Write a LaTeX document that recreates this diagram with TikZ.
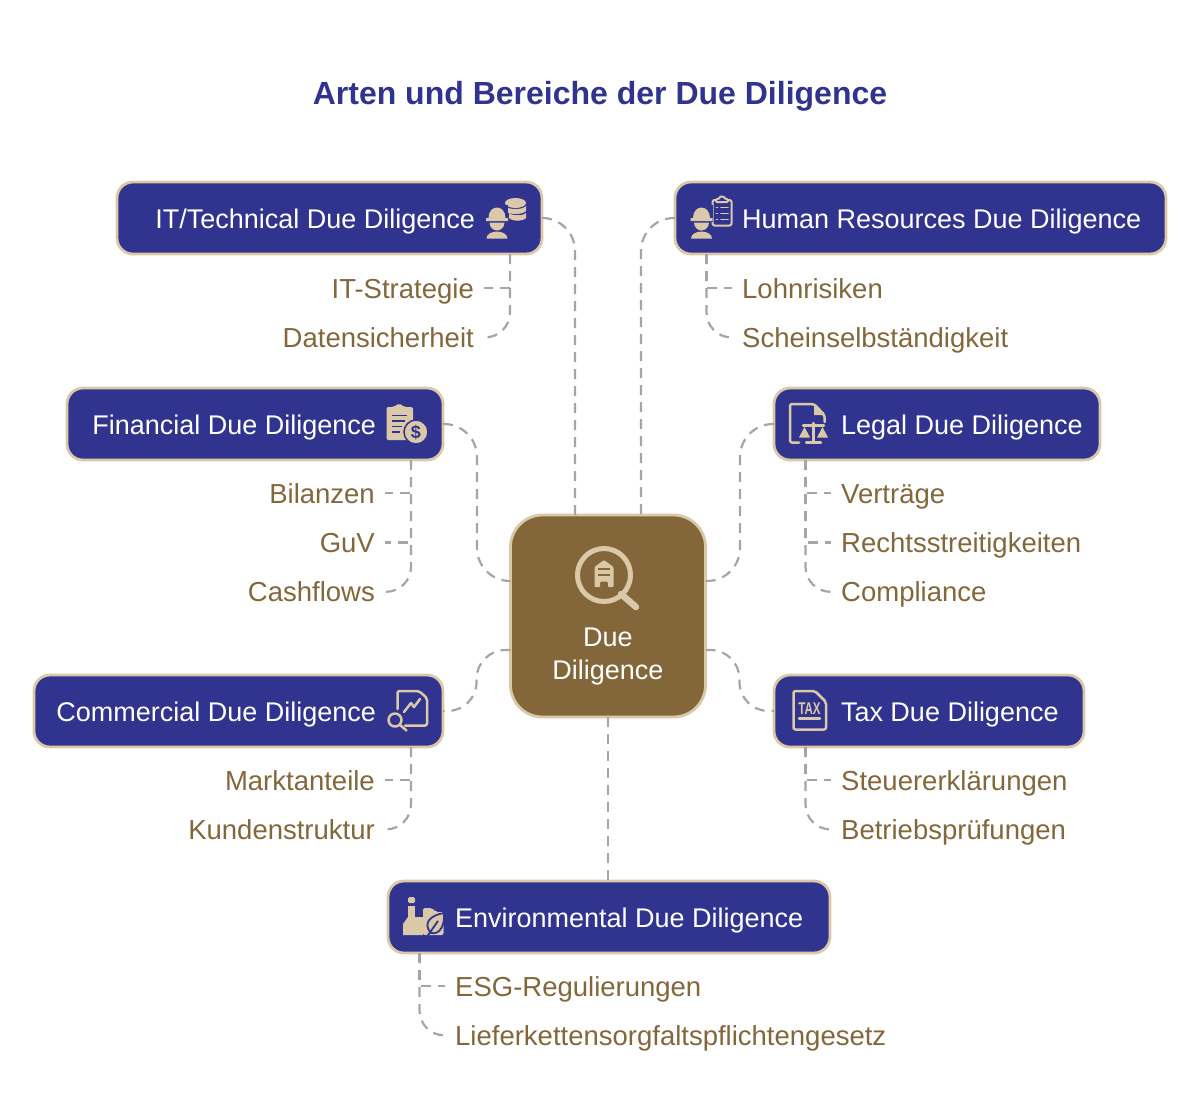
\documentclass[tikz,border=0pt]{standalone}
\usepackage{fontspec}
\setmainfont{Liberation Sans}
\usetikzlibrary{positioning}

\definecolor{navy}{HTML}{30348F}
\definecolor{sand}{HTML}{DBC8A8}
\definecolor{umber}{HTML}{83673A}
\definecolor{dashgray}{HTML}{A5A5A5}

% Icons
\newcommand{\workericon}[2]{
  \begin{scope}[shift={(#1,#2)}]
    \fill[navy] (-13,-18) rectangle (11,-1);
    \fill[sand] (-8.5,-5) .. controls (-8.5,-12) and (-4,-15.5) .. (0,-15.5) .. controls (4,-15.5) and (8.5,-12) .. (8.5,-5) -- (11,-5) -- (11,-2) -- (-11,-2) -- (-11,-5) -- cycle;
    \fill[sand] (-7.5,-.5) -- (7.5,-.5) .. controls (7.5,4) and (4,7.5) .. (0,7.5) .. controls (-4,7.5) and (-7.5,4) .. (-7.5,-.5) -- cycle;
    \fill[sand] (-10.5,15.5) .. controls (-10.5,11) and (-5,8.5) .. (0,8.5) .. controls (5,8.5) and (10.5,11) .. (10.5,15.5) -- cycle;
  \end{scope}
}
\newcommand{\diskband}[1]{
  \fill[sand] (509,#1) .. controls (512,{#1+3}) and (523,{#1+3}) .. (526,#1) -- (526,{#1+5}) .. controls (523,{#1+8.5}) and (512,{#1+8.5}) .. (509,{#1+5}) -- cycle;
}

\begin{document}
\begin{tikzpicture}[
    x=1pt, y=-1pt,
    node distance=21pt,
    boxtext/.style={font=\fontsize{27}{33}\selectfont, inner sep=0pt, text height=24pt, text depth=4pt},
    navybox/.style={boxtext, draw=sand, fill=navy, text=white, line width=2.8pt, outer sep=0pt, rounded corners=16pt, minimum height=72pt, anchor=north west},
    textleft/.style={navybox, text width=#1, align=flush left, execute at begin node={\hspace*{67pt}}},
    textright/.style={navybox, text width=#1, align=flush right, execute at end node={\hspace*{67pt}}},
    leafleft/.style={boxtext, font=\fontsize{27.5}{33}\selectfont, text=umber, inner xsep=10pt, anchor=east},
    leafright/.style={boxtext, font=\fontsize{27.5}{33}\selectfont, text=umber, inner xsep=10pt, anchor=west},
    link/.style={draw=dashgray, line width=2.2pt, dash pattern=on 10pt off 7pt},
    icon/.style={draw=sand, line width=2.5pt, line join=round, line cap=round},
    iconfill/.style={fill=sand}
  ]
  \useasboundingbox (0,0) rectangle (1200,1117);

  % Title
  \node[text=navy, font=\fontsize{32}{38}\selectfont\bfseries, inner sep=0pt] (title) at (600,96.5) {Arten und Bereiche der Due Diligence};

  % Center
  \node[draw=sand, fill=umber, text=white, line width=2.8pt, outer sep=0pt, rounded corners=32pt, inner sep=0pt, minimum width=195pt, font=\fontsize{27}{33}\selectfont, align=center] (center) at (608,616)
    {\rule{0pt}{131pt}Due\\Diligence\rule[-38pt]{0pt}{38pt}};

  % Boxes
  \node[textright=425pt] (itbox) at (117,182) {IT/Technical Due Diligence};
  \node[textleft=491pt] (hrbox) at (675,182) {Human Resources Due Diligence};
  \node[textright=376pt] (finbox) at (67,388) {Financial Due Diligence};
  \node[textleft=326pt] (legalbox) at (774,388) {Legal Due Diligence};
  \node[textright=409pt] (combox) at (34,675) {Commercial Due Diligence};
  \node[textleft=310pt] (taxbox) at (774,675) {Tax Due Diligence};
  \node[textleft=442pt] (envbox) at (388,881) {Environmental Due Diligence};

  % Leaves
  \node[leafleft] (strategie) at (484,288) {IT-Strategie};
  \node[leafleft, below=of strategie.south east, anchor=north east] (sicherheit) {Datensicherheit};
  \node[leafright] (lohn) at (732,288) {Lohnrisiken};
  \node[leafright, below=of lohn.south west, anchor=north west] (schein) {Scheinselbständigkeit};
  \node[leafleft] (bilanzen) at (385,493) {Bilanzen};
  \node[leafleft, below=of bilanzen.south east, anchor=north east] (guv) {GuV};
  \node[leafleft, below=of guv.south east, anchor=north east] (cash) {Cashflows};
  \node[leafright] (vertraege) at (831,493) {Verträge};
  \node[leafright, below=of vertraege.south west, anchor=north west] (streit) {Rechtsstreitigkeiten};
  \node[leafright, below=of streit.south west, anchor=north west] (compliance) {Compliance};
  \node[leafleft] (markt) at (385,780) {Marktanteile};
  \node[leafleft, below=of markt.south east, anchor=north east] (kunden) {Kundenstruktur};
  \node[leafright] (steuer) at (831,780) {Steuererklärungen};
  \node[leafright, below=of steuer.south west, anchor=north west] (pruefung) {Betriebsprüfungen};
  \node[leafright] (esg) at (445,986) {ESG-Regulierungen};
  \node[leafright, below=of esg.south west, anchor=north west] (liefer) {Lieferkettensorgfaltspflichtengesetz};

  % Links to center
  \draw[link, rounded corners=33pt] (itbox.east) -| ([xshift=-33pt]center.north);
  \draw[link, rounded corners=33pt] (hrbox.west) -| ([xshift=33pt]center.north);
  \draw[link, rounded corners=33pt] (finbox.east) -- ++(34,0) |- ([yshift=35pt]center.west);
  \draw[link, rounded corners=33pt] (legalbox.west) -- ++(-34,0) |- ([yshift=35pt]center.east);
  \draw[link, rounded corners=29pt] ([yshift=-34pt]center.west) -- ++(-34,0) |- (combox.east);
  \draw[link, rounded corners=29pt] ([yshift=-34pt]center.east) -- ++(34,0) |- (taxbox.west);
  \draw[link] (center.south) -- (center.south |- envbox.north);

  % Links to leaves
  \draw[link] ([xshift=-32pt]itbox.south east) |- (strategie.east);
  \draw[link, rounded corners=25pt] ([xshift=-32pt]itbox.south east) |- (sicherheit.east);
  \draw[link] ([xshift=31.5pt]hrbox.south west) |- (lohn.west);
  \draw[link, rounded corners=25pt] ([xshift=31.5pt]hrbox.south west) |- (schein.west);
  \draw[link] ([xshift=-32pt]finbox.south east) |- (bilanzen.east);
  \draw[link] ([xshift=-32pt]finbox.south east) |- (guv.east);
  \draw[link, rounded corners=25pt] ([xshift=-32pt]finbox.south east) |- (cash.east);
  \draw[link] ([xshift=31.5pt]legalbox.south west) |- (vertraege.west);
  \draw[link] ([xshift=31.5pt]legalbox.south west) |- (streit.west);
  \draw[link, rounded corners=25pt] ([xshift=31.5pt]legalbox.south west) |- (compliance.west);
  \draw[link] ([xshift=-32pt]combox.south east) |- (markt.east);
  \draw[link, rounded corners=25pt] ([xshift=-32pt]combox.south east) |- (kunden.east);
  \draw[link] ([xshift=31.5pt]taxbox.south west) |- (steuer.west);
  \draw[link, rounded corners=25pt] ([xshift=31.5pt]taxbox.south west) |- (pruefung.west);
  \draw[link] ([xshift=31.5pt]envbox.south west) |- (esg.west);
  \draw[link, rounded corners=25pt] ([xshift=31.5pt]envbox.south west) |- (liefer.west);

  % Center icon
  \draw[icon, line width=5pt] (604,575) circle[radius=26.5];
  \draw[icon, line width=6.5pt] (621,594) -- (636,607);
  \fill[sand, rounded corners=1pt] (594.5,567) -- (604,560) -- (613.5,567) -- (613.5,587) -- (608,587) -- (608,581.5) -- (600,581.5) -- (600,587) -- (594.5,587) -- cycle;
  \draw[umber, line width=1.8pt] (598,569) -- (610,569) (598,575) -- (610,575);

  % IT icon
  \fill[sand] (515.5,203) circle[x radius=10.5, y radius=5];
  \fill[sand] (505,206) .. controls (508,210) and (523,210) .. (526,206) -- (526,211) .. controls (523,215) and (508,215) .. (505,211) -- cycle;
  \diskband{213}
  \workericon{497}{223}

  % HR icon
  \draw[icon, line width=2pt, rounded corners=2pt] (716,200) -- (712.5,200) -- (712.5,225.5) -- (731.5,225.5) -- (731.5,200) -- (728,200);
  \draw[icon, line width=2pt, rounded corners=1pt] (716,202) -- (716,199) -- (719,199) -- (720,196.5) -- (724,196.5) -- (725,199) -- (728,199) -- (728,202) -- cycle;
  \draw[icon, line width=1.8pt] (716.5,207.5) -- (717.5,207.5) (721,207.5) -- (728,207.5) (716.5,213.5) -- (717.5,213.5) (721,213.5) -- (728,213.5) (716.5,219.5) -- (717.5,219.5) (721,219.5) -- (728,219.5);
  \workericon{701.5}{223}

  % Financial icon
  \fill[sand, rounded corners=2pt] (386.5,407) -- (394,407) -- (399,403) -- (404,407) -- (413,407) -- (413,440) -- (386.5,440) -- cycle;
  \draw[navy, line width=1.8pt] (392,415.5) -- (407,415.5) (392,421) -- (405,421) (392,426.5) -- (402,426.5) (392,432) -- (400,432);
  \fill[sand, draw=navy, line width=1.5pt] (416,432) circle[radius=12];
  \node[text=navy, font=\fontsize{18}{18}\selectfont\bfseries, inner sep=0pt] (dollar) at (416,432) {\$};

  % Legal icon
  \draw[icon, rounded corners=2pt] (799,442.5) -- (790,442.5) -- (790,404) -- (814,404) -- (824.5,415) -- (824.5,422);
  \fill[sand] (814,404) -- (814,415) -- (824.5,415) -- cycle;
  \draw[icon, line width=2.2pt] (803,425.5) -- (824,425.5) (813.5,423) -- (813.5,441.5) (806,442.5) -- (821,442.5);
  \fill[sand] (804.5,427) -- (799,437.5) -- (810,437.5) -- cycle;
  \fill[sand] (822.5,427) -- (817,437.5) -- (828,437.5) -- cycle;

  % Commercial icon
  \draw[icon, rounded corners=2pt] (397.5,709) -- (397.5,691) -- (419,691) -- (427,698) -- (427,725.5) -- (405,725.5);
  \draw[icon] (404,712) -- (411,703) -- (414,707) -- (420,699);
  \draw[icon] (395,720) circle[radius=6.5];
  \draw[icon] (400,725) -- (406.5,730.5);

  % Tax icon
  \draw[icon, rounded corners=2pt] (793.5,691) -- (815,691) -- (826,702) -- (826,729.5) -- (793.5,729.5) -- cycle;
  \node[text=sand, font=\fontsize{17}{17}\selectfont\bfseries, inner sep=0pt, xscale=.68, transform shape] (taxlabel) at (809.5,708.5) {TAX};
  \draw[icon] (799,718.5) -- (820,718.5);

  % Environmental icon
  \fill[sand, rounded corners=1.5pt] (408,897) rectangle (415,903);
  \fill[sand] (408,905.5) rectangle (415,917);
  \fill[sand] (403,935) -- (403,924) -- (408,917) -- (423,917) -- (423,935) -- cycle;
  \fill[sand, rounded corners=2pt] (423,935) -- (423,908) -- (432,908) -- (436,912) -- (443.5,912) -- (443.5,935) -- cycle;
  \fill[sand, draw=navy, line width=1.8pt] (431,933) .. controls (422,923) and (431,915) .. (444,913) .. controls (445,925) and (440,935) .. (431,933) -- cycle;
  \draw[navy, line width=1.8pt] (426,938) -- (438,921);
\end{tikzpicture}
\end{document}
